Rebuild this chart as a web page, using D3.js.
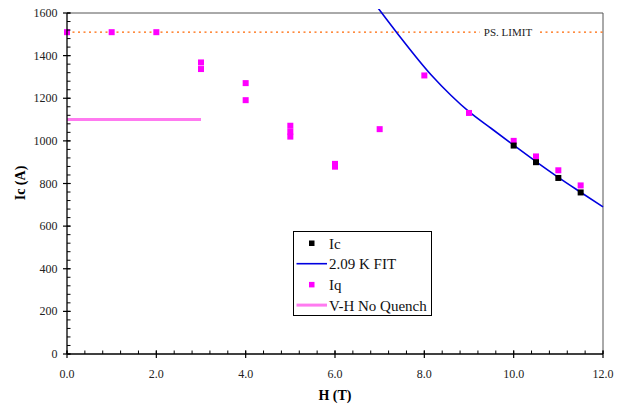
<!DOCTYPE html>
<html>
<head>
<meta charset="utf-8">
<script src="https://cdn.jsdelivr.net/npm/d3@7"></script>
<style>
  html, body { margin: 0; padding: 0; background: #fff; }
  svg { display: block; font-family: "Liberation Serif", "Times New Roman", serif; }
</style>
</head>
<body>
<svg id="chart" width="621" height="404"></svg>
<script>
// Measured critical current (Ic) vs field
const icField = [10.0, 10.5, 11.0, 11.5];
const icCurrent = [978, 900, 826, 758];

// Quench currents (Iq) vs field
const iqField = [0, 1, 2, 3, 3, 4, 4, 5, 5, 5, 6, 6, 7, 8, 9, 10, 10.5, 11, 11.5];
const iqCurrent = [1510, 1510, 1510, 1368, 1337, 1271, 1191, 1071, 1043, 1020, 892, 879, 1055, 1307, 1131, 1000, 927, 862, 791];

// 2.09 K fit curve
const fitField = [6.95, 7.38, 8.16, 8.6, 9.0, 9.5, 10.0, 10.5, 11.0, 11.5, 12.0];
const fitCurrent = [1627, 1509, 1308, 1213, 1137, 1058, 980, 903, 829, 759, 690];

// V-H no-quench level
const noQuenchField = [0, 3];
const noQuenchCurrent = [1100, 1100];

// Power-supply limit
const psLimit = 1510;

const xTicks = [0, 2, 4, 6, 8, 10, 12];
const yTicks = [0, 200, 400, 600, 800, 1000, 1200, 1400, 1600];

const svg = d3.select("#chart");
const pL = 67, pR = 603, pT = 13, pB = 354;

const x = d3.scaleLinear().domain([0, 12]).range([pL, pR]);
const y = d3.scaleLinear().domain([0, 1600]).range([pB, pT]);

const plot = svg.append("g");

// frame on top and right
plot.append("path")
  .attr("d", `M${pL},${pT}H${pR}V${pB}`)
  .attr("fill", "none").attr("stroke", "#555").attr("stroke-width", 1);

// clip for curves
svg.append("defs").append("clipPath").attr("id", "clip")
  .append("rect").attr("x", pL).attr("y", pT - 4).attr("width", pR - pL + 1).attr("height", pB - pT + 4);

// PS limit dotted line with a gap for its label
const psY = y(psLimit);
[[x(0), 480], [540, x(12)]].forEach(([a, b]) => {
  plot.append("line")
    .attr("x1", a).attr("x2", b).attr("y1", psY).attr("y2", psY)
    .attr("stroke", "#ff6600").attr("stroke-width", 1.2)
    .attr("stroke-dasharray", "2,3.5");
});
plot.append("text")
  .attr("x", 508).attr("y", psY + 3.8)
  .attr("text-anchor", "middle").attr("font-size", 11).attr("fill", "#222")
  .text("PS. LIMIT");

// V-H no quench line
plot.append("line")
  .attr("x1", x(noQuenchField[0])).attr("x2", x(noQuenchField[1]))
  .attr("y1", y(noQuenchCurrent[0])).attr("y2", y(noQuenchCurrent[1]))
  .attr("stroke", "#ff7af0").attr("stroke-width", 3);

// fit curve
const fitLine = d3.line().x(d => x(d[0])).y(d => y(d[1])).curve(d3.curveMonotoneX);
svg.append("path")
  .datum(fitField.map((f, i) => [f, fitCurrent[i]]))
  .attr("clip-path", "url(#clip)")
  .attr("d", fitLine)
  .attr("fill", "none").attr("stroke", "#0000e0").attr("stroke-width", 1.6);

// Iq markers
const sq = 6;
svg.append("g").selectAll("rect")
  .data(iqField.map((f, i) => [f, iqCurrent[i]]))
  .join("rect")
  .attr("x", d => x(d[0]) - sq / 2).attr("y", d => y(d[1]) - sq / 2)
  .attr("width", sq).attr("height", sq).attr("fill", "#ff00ff");

// Ic markers
svg.append("g").selectAll("rect")
  .data(icField.map((f, i) => [f, icCurrent[i]]))
  .join("rect")
  .attr("x", d => x(d[0]) - sq / 2).attr("y", d => y(d[1]) - sq / 2)
  .attr("width", sq).attr("height", sq).attr("fill", "#000");

// axes
const xAxis = svg.append("g").attr("transform", `translate(0,${pB})`);
xAxis.append("line").attr("x1", pL).attr("x2", pR).attr("stroke", "#000").attr("stroke-width", 1.3);
const xMinor = d3.range(0, 12.001, 0.4);
xAxis.selectAll(".xm").data(xMinor).join("line")
  .attr("x1", d => x(d)).attr("x2", d => x(d)).attr("y1", -3.5).attr("y2", 0)
  .attr("stroke", "#000").attr("stroke-width", 1);
xAxis.selectAll(".xM").data(xTicks).join("line")
  .attr("x1", d => x(d)).attr("x2", d => x(d)).attr("y1", -3.5).attr("y2", 4)
  .attr("stroke", "#000").attr("stroke-width", 1.2);
xAxis.selectAll("text").data(xTicks).join("text")
  .attr("x", d => x(d)).attr("y", 24)
  .attr("text-anchor", "middle").attr("font-size", 12).attr("fill", "#222")
  .text(d => d3.format(".1f")(d));

const yAxis = svg.append("g").attr("transform", `translate(${pL},0)`);
yAxis.append("line").attr("y1", pT).attr("y2", pB).attr("stroke", "#000").attr("stroke-width", 1.3);
const yMinor = d3.range(0, 1600.1, 40);
yAxis.selectAll(".ym").data(yMinor).join("line")
  .attr("y1", d => y(d)).attr("y2", d => y(d)).attr("x1", 0).attr("x2", 3.5)
  .attr("stroke", "#000").attr("stroke-width", 1);
yAxis.selectAll(".yM").data(yTicks).join("line")
  .attr("y1", d => y(d)).attr("y2", d => y(d)).attr("x1", -4).attr("x2", 3.5)
  .attr("stroke", "#000").attr("stroke-width", 1.2);
yAxis.selectAll("text").data(yTicks).join("text")
  .attr("x", -9.5).attr("y", d => y(d) + 4)
  .attr("text-anchor", "end").attr("font-size", 12).attr("fill", "#222")
  .text(d => d);

// axis titles
svg.append("text")
  .attr("x", 335).attr("y", 400)
  .attr("text-anchor", "middle").attr("font-size", 14).attr("font-weight", "bold")
  .text("H (T)");
svg.append("text")
  .attr("transform", "translate(25,183) rotate(-90)")
  .attr("text-anchor", "middle").attr("font-size", 14).attr("font-weight", "bold")
  .text("Ic (A)");

// legend
const lg = svg.append("g");
lg.append("rect").attr("x", 293.5).attr("y", 231.5).attr("width", 138).attr("height", 84)
  .attr("fill", "#fff").attr("stroke", "#000").attr("stroke-width", 1);
const rows = [
  { label: "Ic", type: "sq", color: "#000" },
  { label: "2.09 K FIT", type: "line", color: "#0000e0", w: 1.6 },
  { label: "Iq", type: "sq", color: "#ff00ff" },
  { label: "V-H No Quench", type: "line", color: "#ff7af0", w: 3 }
];
rows.forEach((r, i) => {
  const cy = 243 + i * 20.7;
  if (r.type === "sq") {
    lg.append("rect").attr("x", 309).attr("y", cy - 2.5).attr("width", 5.5).attr("height", 5.5).attr("fill", r.color);
  } else {
    lg.append("line").attr("x1", 296.5).attr("x2", 327).attr("y1", cy).attr("y2", cy)
      .attr("stroke", r.color).attr("stroke-width", r.w);
  }
  lg.append("text").attr("x", 329).attr("y", cy + 5.5).attr("font-size", 15).attr("fill", "#111").text(r.label);
});
</script>
</body>
</html>
